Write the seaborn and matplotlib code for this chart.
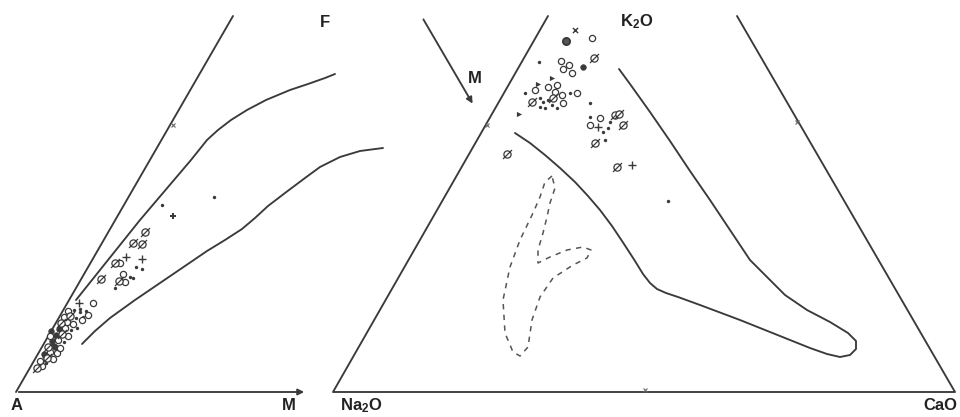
import numpy as np
import pandas as pd
import matplotlib
matplotlib.use("Agg")
import matplotlib.pyplot as plt
from matplotlib.path import Path
import seaborn as sns

sns.set_theme(style="white")
plt.rcParams['font.family'] = ['Liberation Sans', 'DejaVu Sans']
plt.rcParams['mathtext.fontset'] = 'custom'
plt.rcParams['mathtext.rm'] = 'Liberation Sans:bold'
plt.rcParams['mathtext.it'] = 'Liberation Sans:bold'

INK = "#3a3a3a"

# ---------------------------------
# Data (diagram plane coordinates, y down)
# ---------------------------------

# AFM diagram: boundary curves
afm_upper_x = [76, 92, 108, 124, 140, 157, 174, 191, 207, 218, 231, 247, 266, 290, 308, 325, 335]
afm_upper_y = [300, 280, 260, 240, 220, 200, 180, 160, 140, 130, 120, 110, 100, 90, 84, 78, 74]
afm_lower_x = [82, 95, 110, 135, 160, 185, 207, 225, 242, 255, 268, 285, 305, 320, 340, 360, 383]
afm_lower_y = [344, 331, 318, 300, 283, 266, 251, 240, 229, 218, 206, 193, 178, 167, 157, 151, 148]

# AFM diagram: samples
afm_x = [214, 162, 173, 145, 133, 142, 126, 115, 120, 142, 136, 142, 123, 130, 101, 119, 125, 133,
         115, 79, 93, 88, 80, 83,
         37, 42, 46, 40, 47, 53, 44, 50, 57, 48, 54, 60, 52, 58, 64, 56, 62, 68, 59, 65, 71,
         61, 67, 73, 77, 64, 70, 76, 82, 68, 74, 80, 86, 55, 50, 51, 57, 63, 45]
afm_y = [197, 205, 216, 232, 243, 244, 257, 263, 263, 259, 267, 269, 274, 277, 279, 281, 282, 278,
         288, 303, 303, 315, 312, 317,
         368, 366, 363, 361, 358, 359, 354, 352, 353, 347, 346, 348, 341, 340, 342, 335, 334, 336,
         329, 328, 330, 323, 322, 324, 328, 317, 316, 318, 320, 311, 310, 309, 311, 347, 336,
         331, 338, 326, 356]
afm_kind = ['dot', 'dot', 'star', 'slash', 'slash', 'slash', 'plus', 'slash', 'o', 'plus', 'dot',
            'dot', 'o', 'dot', 'slash', 'slash', 'o', 'dot', 'dot', 'plus', 'o', 'o', 'dot', 'dot',
            'slash', 'o', 'dot', 'o', 'slash', 'o', 'fill', 'o', 'o', 'slash', 'fill', 'o', 'fill',
            'o', 'dot', 'fill', 'slash', 'o', 'fill', 'o', 'dot', 'slash', 'o', 'o', 'dot', 'o',
            'slash', 'dot', 'o', 'o', 'dot', 'dot', 'dot', 'fill', 'o', 'fill', 'fill', 'fill',
            'fill']

# Na2O-K2O-CaO diagram: field boundary
nkc_field_x = [515, 530, 545, 560, 575, 588, 600, 612, 624, 635, 643, 650, 657, 666, 678, 700, 740,
               780, 810, 827, 840, 850, 856, 856, 848, 830, 807, 785, 770, 757, 750, 730, 710, 690,
               670, 650, 630, 619]
nkc_field_y = [133, 143, 155, 168, 182, 196, 210, 226, 244, 261, 274, 283, 289, 293, 297, 305, 320,
               336, 348, 354, 357, 355, 349, 341, 333, 322, 310, 295, 280, 267, 260, 230, 200, 171,
               141, 112, 84, 69]

# Na2O-K2O-CaO diagram: dashed field
nkc_dash_x = [552, 545, 540, 533, 520, 510, 503, 505, 513, 520, 528, 532, 540, 553, 573, 587, 591,
              583, 567, 550, 538, 538, 543, 547, 550, 555, 552]
nkc_dash_y = [176, 182, 197, 213, 240, 267, 300, 333, 352, 356, 347, 320, 297, 278, 265, 258, 250,
              247, 250, 257, 263, 250, 233, 217, 203, 188, 176]

# Na2O-K2O-CaO diagram: samples
nkc_x = [575, 566, 592, 594, 539, 561, 569, 563, 572, 583,
         525, 535, 538, 548, 557, 552, 555, 562, 570, 577, 532, 540, 543, 548, 563, 540, 545, 552,
         557, 553, 590, 519,
         590, 600, 615, 619, 610, 590, 598, 608, 623, 603, 595, 605, 507, 617, 632, 668]
nkc_y = [30, 41, 38, 58, 62, 61, 65, 69, 73, 67,
         93, 90, 84, 87, 85, 78, 92, 95, 93, 93, 102, 98, 102, 100, 103, 107, 108, 105,
         108, 98, 103, 114,
         117, 118, 115, 114, 122, 125, 127, 128, 125, 132, 143, 140, 154, 167, 165, 201]
nkc_kind = ['x', 'ring', 'o', 'slash', 'dot', 'o', 'o', 'o', 'o', 'fill',
            'dot', 'o', 'tri', 'o', 'o', 'tri', 'o', 'o', 'dot', 'o', 'slash', 'dot', 'dot', 'dot',
            'o', 'dot', 'dot', 'dot', 'dot', 'slash', 'dot', 'tri',
            'dot', 'o', 'slash', 'slash', 'dot', 'o', 'plus', 'dot', 'slash', 'dot', 'slash', 'dot',
            'slash', 'slash', 'plus', 'dot']

# ---------------------------------
# Marker styles
# ---------------------------------

slash_marker = Path.make_compound_path(
    Path.unit_circle(),
    Path([(-1.25, -1.25), (1.25, 1.25)], [Path.MOVETO, Path.LINETO]))

styles = {
    'o': dict(marker='o', s=20, color='white', edgecolor=INK, linewidth=0.9),
    'slash': dict(marker=slash_marker, s=42, color='white', edgecolor=INK, linewidth=0.9),
    'dot': dict(marker='o', s=6, color=INK, edgecolor=INK, linewidth=0),
    'fill': dict(marker='o', s=16, color=INK, edgecolor=INK, linewidth=0.5),
    'ring': dict(marker='o', s=26, color='#555555', edgecolor=INK, linewidth=1.4),
    'plus': dict(marker='+', s=26, color=INK, linewidth=1.0),
    'star': dict(marker='P', s=22, color=INK, edgecolor=INK, linewidth=0),
    'x': dict(marker='x', s=14, color=INK, linewidth=1.0),
    'tri': dict(marker='>', s=14, color=INK, edgecolor=INK, linewidth=0),
}

# ---------------------------------
# Figure
# ---------------------------------

fig = plt.figure(figsize=(9.6, 4.17), dpi=100)
ax = fig.add_axes([0, 0, 1, 1])
ax.set_xlim(0, 960)
ax.set_ylim(417, 0)
ax.axis('off')

lw = 1.35

# Frames
ax.plot([16, 233], [392, 16], color=INK, lw=lw)
ax.annotate("", xy=(307, 392), xytext=(16, 392),
            arrowprops=dict(arrowstyle="-|>", color=INK, lw=lw, mutation_scale=9))
ax.plot([548, 333, 955, 737], [16, 392, 392, 16], color=INK, lw=lw)
ax.annotate("", xy=(474, 106), xytext=(422, 17),
            arrowprops=dict(arrowstyle="-|>", color=INK, lw=lw, mutation_scale=9))

# 50 % ticks
ax.plot([173, 487, 797, 645], [125, 125, 122, 390], ls='none', marker='x',
        ms=3.5, mew=0.8, color='#666666')

# Boundary curves
for cx, cy in [(afm_upper_x, afm_upper_y), (afm_lower_x, afm_lower_y),
               (nkc_field_x, nkc_field_y)]:
    sns.lineplot(x=cx, y=cy, sort=False, estimator=None, color=INK, lw=lw, ax=ax)
sns.lineplot(x=nkc_dash_x, y=nkc_dash_y, sort=False, estimator=None, color='#555555',
             lw=1.1, ax=ax, linestyle=(0, (3.5, 3.5)))

# Samples
pts = pd.concat([
    pd.DataFrame({'x': afm_x, 'y': afm_y, 'kind': afm_kind}),
    pd.DataFrame({'x': nkc_x, 'y': nkc_y, 'kind': nkc_kind}),
])
for kind, sub in pts.groupby('kind'):
    sns.scatterplot(data=sub, x='x', y='y', ax=ax, legend=False, zorder=3, **styles[kind])

# Corner labels
lab = dict(fontsize=12, fontweight='bold', color='#222222', ha='center', va='center')
ax.text(17, 406, "A", **lab)
ax.text(289, 406, "M", **lab)
ax.text(325, 22, "F", **lab)
ax.text(637, 22, r"K$_{2}$O", **lab)
ax.text(475, 78, "M", **lab)
ax.text(361, 406, r"Na$_{2}$O", **lab)
ax.text(940, 406, "CaO", **lab)

ax.set_xlim(0, 960)
ax.set_ylim(417, 0)
fig.savefig("out.png", dpi=100, facecolor='white')
